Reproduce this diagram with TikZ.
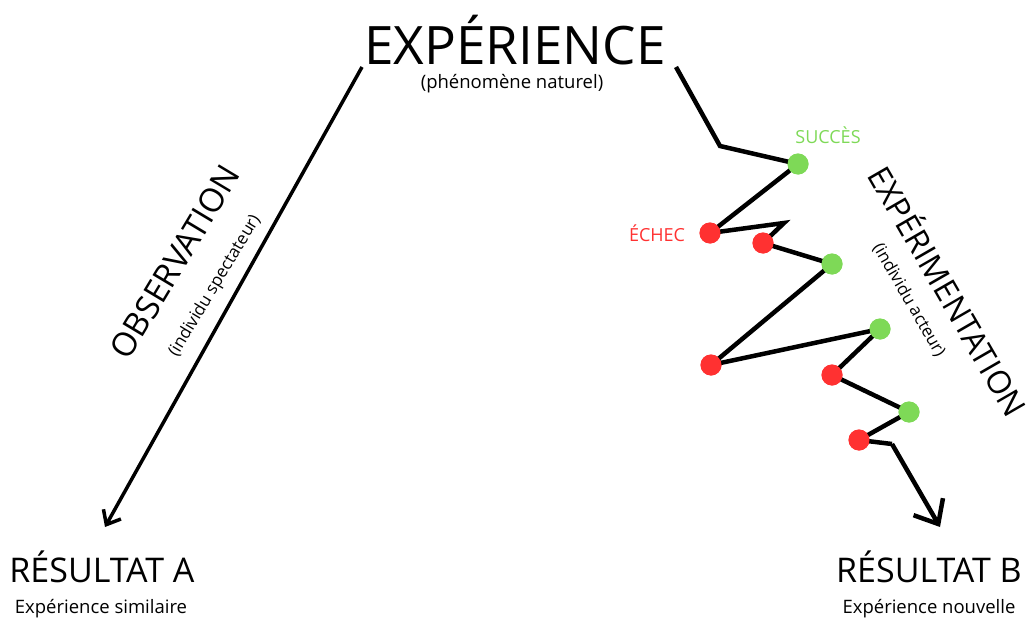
\documentclass[tikz,border=0pt]{standalone}
\usepackage{fontspec}
\setmainfont{Open Sans}
\usetikzlibrary{arrows.meta}
\definecolor{okgreen}{HTML}{7ED957}
\definecolor{kored}{HTML}{FF3131}
\begin{document}
\begin{tikzpicture}[x=1pt,y=-1pt,
  dotg/.style={circle,fill=okgreen,minimum size=21pt,inner sep=0pt},
  dotr/.style={circle,fill=kored,minimum size=21pt,inner sep=0pt},
  trail/.style={line width=4.5pt,black,line join=miter},
  lbl/.style={inner sep=0pt,anchor=center},
  big/.style={font=\fontsize{34}{40}\selectfont},
  small/.style={font=\fontsize{18.5}{22}\selectfont},
  tag/.style={font=\fontsize{18}{22}\selectfont},
  side/.style={font=\fontsize{17}{20}\selectfont},
  diag/.style={font=\fontsize{33}{40}\selectfont},
]
\useasboundingbox (0,0) rectangle (1030,623);
% titles
\node[lbl,font=\fontsize{53}{64}\selectfont] (title) at (515,40) {EXPÉRIENCE};
\node[lbl,small] (sub) at (512,84) {(phénomène naturel)};
\node[lbl,big] (resA) at (102,567) {RÉSULTAT A};
\node[lbl,small] (subA) at (101,609) {Expérience similaire};
\node[lbl,big] (resB) at (929,567) {RÉSULTAT B};
\node[lbl,small] (subB) at (929,609) {Expérience nouvelle};
\node[lbl,diag,rotate=59] (obs) at (175,262) {OBSERVATION};
\node[lbl,side,rotate=59] (obsS) at (215,286) {(individu spectateur)};
\node[lbl,font=\fontsize{32}{38}\selectfont,rotate=-60] (exp) at (950,290) {EXPÉRIMENTATION};
\node[lbl,side,rotate=-60] (expS) at (909,300) {(individu acteur)};
\node[lbl,tag,text=okgreen] (succ) at (828,135) {SUCCÈS};
\node[lbl,tag,text=kored] (ech) at (657,233) {ÉCHEC};
% left path
\coordinate (l0) at (362,67);
\coordinate (l1) at (105,527);
\draw[line width=3.5pt,-{Straight Barb[length=12pt,width=20pt,line width=3.5pt]}] (l0) -- (l1);
% right path
\coordinate (c0) at (676,67);
\coordinate (c1) at (720,146);
\coordinate (c2) at (784,223);
\coordinate (c3) at (892,444);
\coordinate (c4) at (940,527);
\node[dotg] (g1) at (798,164) {};
\node[dotr] (r1) at (710,233) {};
\node[dotr] (r2) at (763,243) {};
\node[dotg] (g2) at (832,264) {};
\node[dotr] (r3) at (711,365) {};
\node[dotg] (g3) at (880,329) {};
\node[dotr] (r4) at (832,375) {};
\node[dotg] (g4) at (909,412) {};
\node[dotr] (r5) at (859,440) {};
\draw[trail] (c0) -- (c1) -- (g1.center) -- (r1.center) -- (c2) -- (r2.center) -- (g2.center) -- (r3.center) -- (g3.center) -- (r4.center) -- (g4.center) -- (r5.center) -- (c3);
\draw[trail,-{Straight Barb[length=20pt,width=34pt,line width=4.5pt]}] (c3) -- (c4);
% dots on top of the trail
\foreach \n/\s in {g1/dotg,r1/dotr,r2/dotr,g2/dotg,r3/dotr,g3/dotg,r4/dotr,g4/dotg,r5/dotr}
  \node[\s] at (\n) {};
\end{tikzpicture}
\end{document}
